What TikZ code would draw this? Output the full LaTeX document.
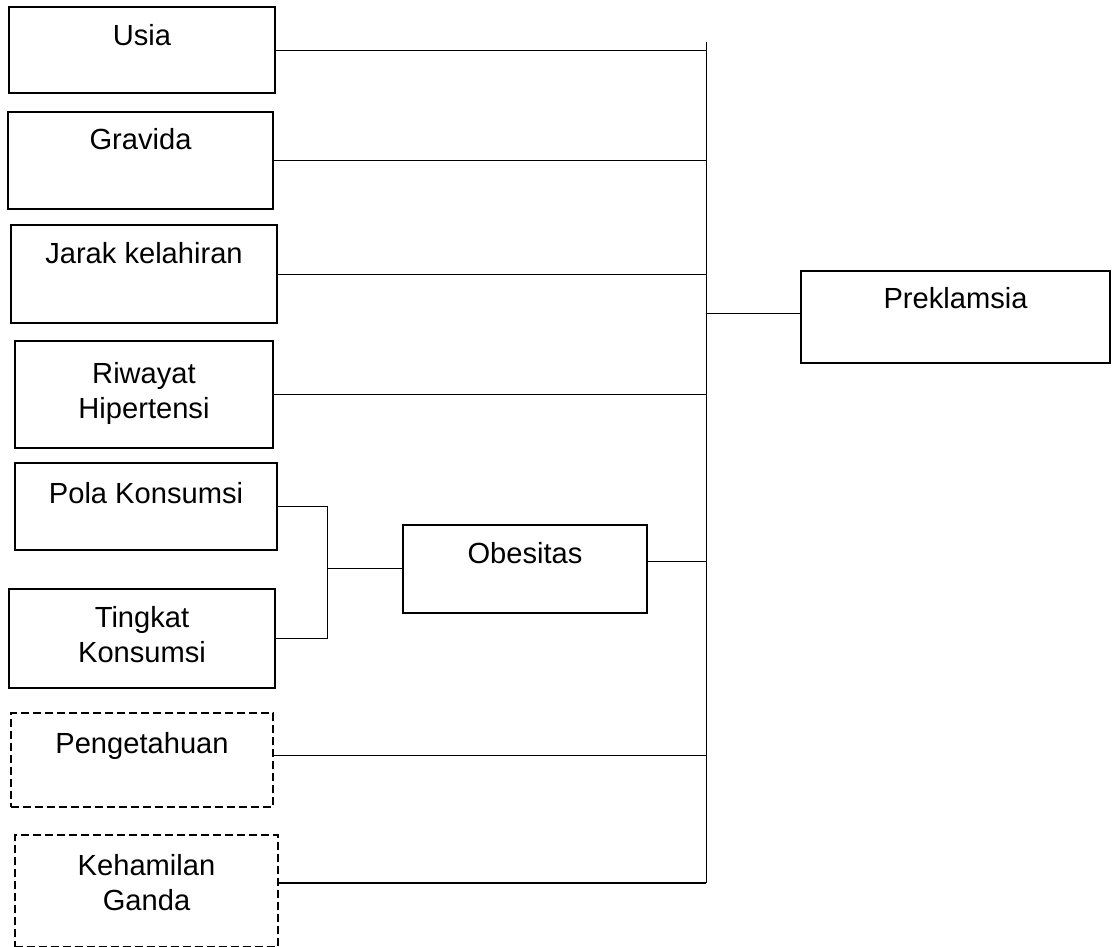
\documentclass[tikz,border=0pt]{standalone}
\usepackage{fontspec}
\setmainfont{Liberation Sans}
\usetikzlibrary{positioning,fit}

\begin{document}
\begin{tikzpicture}[
    x=0.025cm, y=-0.025cm,
    box/.style={rectangle, draw, line width=0.9pt, inner sep=0pt},
    dashbox/.style={box, dash pattern=on 0.2cm off 0.1cm},
    thickbox/.style={box, line width=1.5pt},
    lbl/.style={inner sep=0pt, align=center, font=\fontsize{20.7}{24.9}\selectfont},
    link/.style={line width=0.7pt}
  ]
    \useasboundingbox (0,0) rectangle (1118,947);

    % factor boxes on the left
    \node[box, fit={(9,7) (275,93)}] (usia) {};
    \node[box, fit={(8,112) (273,209)}] (gravida) {};
    \node[box, fit={(11,225) (277,323)}] (jarak) {};
    \node[box, fit={(15,341) (273,448)}] (riwayat) {};
    \node[box, fit={(15,463) (277,550)}] (pola) {};
    \node[box, fit={(9,589) (275,688)}] (tingkat) {};
    \node[dashbox, fit={(11,713) (273,807)}] (penget) {};
    \node[dashbox, fit={(15,835) (278,947)}] (ganda) {};
    \node[thickbox, fit={(403,525) (647,613)}] (obesitas) {};
    \node[box, fit={(801,271) (1110,363)}] (preklamsia) {};

    \node[lbl, below=0.45cm of usia.north] (usiatxt) {Usia};
    \node[lbl, below=0.425cm of gravida.north] (gravidatxt) {Gravida};
    \node[lbl, below=0.45cm of jarak.north] (jaraktxt) {Jarak kelahiran};
    \node[lbl, below=0.55cm of riwayat.north] (riwayattxt) {Riwayat\\Hipertensi};
    \node[lbl, below=0.5cm of pola.north] (polatxt) {Pola Konsumsi};
    \node[lbl, below=0.45cm of tingkat.north] (tingkattxt) {Tingkat\\Konsumsi};
    \node[lbl, below=0.5cm of penget.north] (pengettxt) {Pengetahuan};
    \node[lbl, below=0.5cm of ganda.north] (gandatxt) {Kehamilan\\Ganda};
    \node[lbl, below=0.45cm of obesitas.north] (obesitastxt) {Obesitas};
    \node[lbl, below=0.425cm of preklamsia.north] (preklamsiatxt) {Preklamsia};

    % main spine and bracket
    \coordinate (spinetop) at (706,42);
    \coordinate (spinebot) at (706,883);
    \coordinate (brtop) at (327,506);
    \coordinate (brbot) at (327,639);
    \coordinate (brmid) at (327,568);
    \draw[link] (spinetop) -- (spinebot);
    \draw[link] (brtop) -- (brbot);

    % connectors
    \draw[link] (usia.east) -- (usia.east -| spinetop);
    \draw[link] (gravida.east) -- (gravida.east -| spinetop);
    \draw[link] (jarak.east) -- (jarak.east -| spinetop);
    \draw[link] (riwayat.east) -- (riwayat.east -| spinetop);
    \draw[link] (pola.east) -- (pola.east -| brtop);
    \draw[link] (tingkat.east) -- (tingkat.east -| brtop);
    \draw[link] (brmid) -- (brmid -| obesitas.west);
    \draw[link] ([yshift=0.2cm]obesitas.east) -- ([yshift=0.2cm]obesitas.east -| spinetop);
    \draw[link, line width=1pt] ([yshift=0.12cm]penget.east) -- ([yshift=0.12cm]penget.east -| spinetop);
    \draw[link, line width=1pt] (spinebot -| ganda.east) -- (spinebot);
    \draw[link] ([yshift=0.1cm]preklamsia.west -| spinetop) -- ([yshift=0.1cm]preklamsia.west);
  \end{tikzpicture}
\end{document}
